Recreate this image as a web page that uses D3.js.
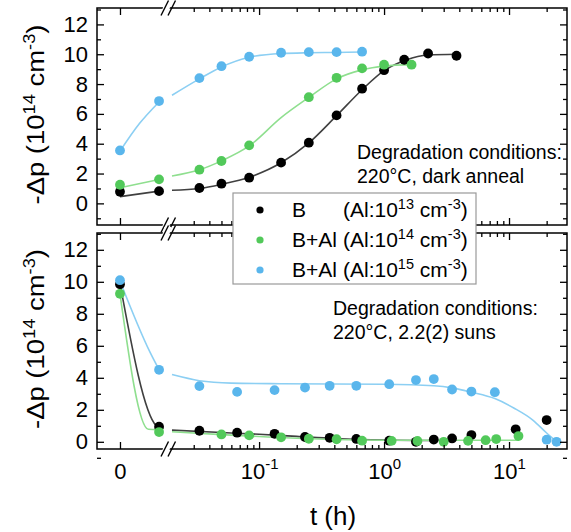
<!DOCTYPE html>
<html>
<head>
<meta charset="utf-8">
<script src="https://cdn.jsdelivr.net/npm/d3@7"></script>
<style>
body { margin: 0; background: #fff; }
text { font-family: "Liberation Sans", Arial, sans-serif; fill: #000; }
</style>
</head>
<body>
<div id="chart"></div>
<script>
var T1 = 1 / 60; // first point after t = 0, drawn on the linear piece

// dark anneal (top panel), measured points
var topBlackT = [0, T1, 0.0333, 0.05, 0.0833, 0.15, 0.25, 0.417, 0.667, 1, 1.45, 2.25, 3.8];
var topBlackV = [0.78, 0.82, 1.03, 1.32, 1.72, 2.73, 4.07, 5.9, 7.69, 8.93, 9.63, 10.05, 9.9];
var topGreenT = [0, T1, 0.0333, 0.05, 0.0833, 0.25, 0.417, 0.667, 1, 1.66];
var topGreenV = [1.25, 1.61, 2.26, 2.84, 3.89, 7.12, 8.42, 9.05, 9.3, 9.3];
var topBlueT = [0, T1, 0.0333, 0.05, 0.0833, 0.15, 0.25, 0.417, 0.667];
var topBlueV = [3.55, 6.86, 8.4, 9.2, 9.83, 10.1, 10.14, 10.14, 10.17];

// dark anneal fit lines (left piece A, right piece B)
var fitTopBlackAT = [0, T1];
var fitTopBlackAV = [0.45, 0.82];
var fitTopBlackBT = [0.0201, 0.0333, 0.05, 0.0833, 0.15, 0.25, 0.417, 0.667, 1, 1.5, 2.25, 3.8];
var fitTopBlackBV = [0.88, 1.0, 1.28, 1.75, 2.72, 4.05, 5.88, 7.62, 8.9, 9.62, 9.95, 10.0];
var fitTopGreenAT = [0, T1];
var fitTopGreenAV = [1.05, 1.6];
var fitTopGreenBT = [0.0201, 0.0333, 0.05, 0.0833, 0.15, 0.25, 0.417, 0.667, 1, 1.66];
var fitTopGreenBV = [1.83, 2.25, 2.85, 3.85, 5.75, 7.1, 8.35, 8.95, 9.2, 9.3];
var fitTopBlueAT = [0, 0.0083, T1];
var fitTopBlueAV = [3.5, 5.35, 6.8];
var fitTopBlueBT = [0.0201, 0.0333, 0.05, 0.0833, 0.15, 0.25, 0.417, 0.667];
var fitTopBlueBV = [7.25, 8.35, 9.15, 9.8, 10.05, 10.1, 10.12, 10.15];

// 2.2 suns (bottom panel), measured points
var botBlackT = [0, T1, 0.0333, 0.0667, 0.133, 0.233, 0.367, 0.6, 1.1, 1.8, 2.5, 3.5, 5, 11.3, 20];
var botBlackV = [9.85, 0.94, 0.69, 0.57, 0.5, 0.3, 0.25, 0.18, 0.07, 0.0, 0.14, 0.21, 0.42, 0.78, 1.36];
var botGreenT = [0, T1, 0.05, 0.0833, 0.15, 0.25, 0.417, 0.667, 1.15, 1.85, 3, 4.7, 6.5, 7.9, 11.9];
var botGreenV = [9.25, 0.61, 0.46, 0.4, 0.28, 0.19, 0.16, 0.07, 0.06, 0.05, 0.0, 0.06, 0.1, 0.17, 0.36];
var botBlueT = [0, T1, 0.0333, 0.0667, 0.133, 0.233, 0.367, 0.6, 1.1, 1.8, 2.5, 3.5, 5, 7.7, 20, 24];
var botBlueV = [10.1, 4.5, 3.48, 3.12, 3.23, 3.39, 3.5, 3.5, 3.6, 3.86, 3.92, 3.27, 3.14, 3.1, 0.13, 0.0];

// 2.2 suns fit lines
var fitBotBlackAT = [0, 0.0155, T1];
var fitBotBlackAV = [9.9, 1.0, 0.88];
var fitBotBlackBT = [0.0201, 0.05, 0.1, 0.2, 0.4, 1, 2.5];
var fitBotBlackBV = [0.73, 0.58, 0.47, 0.34, 0.21, 0.11, 0.08];
var fitBotGreenAT = [0, 0.0121, T1];
var fitBotGreenAV = [9.25, 0.78, 0.75];
var fitBotGreenBT = [0.0201, 0.05, 0.1, 0.2, 0.4, 1, 3, 11.9];
var fitBotGreenBV = [0.63, 0.45, 0.33, 0.22, 0.14, 0.1, 0.1, 0.1];
var fitBotBlueAT = [0, 0.0128, T1];
var fitBotBlueAV = [10.05, 5.6, 4.5];
var fitBotBlueBT = [0.0201, 0.0333, 0.06, 0.15, 1, 2.5, 3.5, 5, 7.7, 11, 15.5, 20, 24.2];
var fitBotBlueBV = [4.2, 3.82, 3.67, 3.63, 3.6, 3.5, 3.37, 3.1, 2.7, 2.1, 1.36, 0.55, 0.0];

var yMajor = [0, 2, 4, 6, 8, 10, 12];
var xMajorLog = [0.1, 1, 10];
var xMinorLog = [0.03, 0.04, 0.05, 0.06, 0.07, 0.08, 0.09, 0.2, 0.3, 0.4, 0.5, 0.6, 0.7, 0.8, 0.9,
                 2, 3, 4, 5, 6, 7, 8, 9, 20];
var legendNames = ["B", "B+Al", "B+Al"];
var legendExp = ["13", "14", "15"];

var dotColor = { black: "#000000", green: "#52c95a", blue: "#5ab6ec" };
var lineColor = { black: "#404040", green: "#8fdf8f", blue: "#8ccff3" };

var W = 571, H = 532;
var left = 97, right = 567;
var topBox = { y0: 8, y1: 225 };
var botBox = { y0: 233, y1: 449 };

var svg = d3.select("#chart").append("svg")
    .attr("width", W)
    .attr("height", H);

// broken x axis: a linear piece holding t = 0, then a log piece
var xLin = d3.scaleLinear().domain([-0.0098, 0.0192]).range([left, 165]);
var xLog = d3.scaleLog().domain([0.0201, 29.1]).range([172, right]);
function xPos(t) { return t < 0.0195 ? xLin(t) : xLog(t); }

var yTop = d3.scaleLinear().domain([-1.45, 13.1]).range([topBox.y1, topBox.y0]);
var yBot = d3.scaleLinear().domain([-0.45, 13.05]).range([botBox.y1, botBox.y0]);

function pairs(ts, vs) {
    return ts.map(function (t, i) { return { t: t, v: vs[i] }; });
}

function supLabel(sel, base, exp, size) {
    sel.text(null);
    sel.append("tspan").text(base);
    sel.append("tspan").attr("dy", -size * 0.42).style("font-size", (size * 0.68) + "px").text(exp);
}

function drawPanel(box, y, series, showXLabels) {
    var g = svg.append("g");

    // fit lines
    var line = d3.line()
        .x(function (d) { return xPos(d.t); })
        .y(function (d) { return y(d.v); })
        .curve(d3.curveMonotoneX);
    series.forEach(function (s) {
        [s.fitA, s.fitB].forEach(function (f) {
            g.append("path")
                .attr("d", line(f))
                .attr("fill", "none")
                .attr("stroke", lineColor[s.color])
                .attr("stroke-width", 1.6);
        });
    });

    // points
    series.forEach(function (s) {
        g.selectAll(null)
            .data(s.pts)
            .enter().append("circle")
            .attr("cx", function (d) { return xPos(d.t); })
            .attr("cy", function (d) { return y(d.v); })
            .attr("r", 4.9)
            .attr("fill", dotColor[s.color]);
    });

    // frame
    g.append("rect")
        .attr("x", left).attr("y", box.y0)
        .attr("width", right - left).attr("height", box.y1 - box.y0)
        .attr("fill", "none").attr("stroke", "#000").attr("stroke-width", 1.5);

    // y axes, ticks pointing inward
    var yMinor = d3.range(-1, 14, 2);
    var yl = g.append("g").attr("transform", "translate(" + left + ",0)")
        .call(d3.axisLeft(y).tickValues(yMajor).tickSizeInner(-7).tickSizeOuter(0).tickPadding(9));
    yl.selectAll("text").style("font-size", "22px");
    g.append("g").attr("transform", "translate(" + left + ",0)")
        .call(d3.axisLeft(y).tickValues(yMinor).tickSizeInner(-4).tickSizeOuter(0).tickFormat(""));
    g.append("g").attr("transform", "translate(" + right + ",0)")
        .call(d3.axisRight(y).tickValues(yMajor).tickSizeInner(-7).tickSizeOuter(0).tickFormat(""));
    g.append("g").attr("transform", "translate(" + right + ",0)")
        .call(d3.axisRight(y).tickValues(yMinor).tickSizeInner(-4).tickSizeOuter(0).tickFormat(""));

    // x axes on top and bottom edges
    [[box.y0, d3.axisTop], [box.y1, d3.axisBottom]].forEach(function (e, k) {
        var at = "translate(0," + e[0] + ")";
        var lab = showXLabels && k === 1;
        var a0 = g.append("g").attr("transform", at)
            .call(e[1](xLin).tickValues([0]).tickSizeInner(-7).tickSizeOuter(0).tickPadding(14)
                .tickFormat(lab ? d3.format("d") : ""));
        var a1 = g.append("g").attr("transform", at)
            .call(e[1](xLog).tickValues(xMajorLog).tickSizeInner(-7).tickSizeOuter(0).tickPadding(14)
                .tickFormat(lab ? function (d) { return d; } : ""));
        g.append("g").attr("transform", at)
            .call(e[1](xLog).tickValues(xMinorLog).tickSizeInner(-4).tickSizeOuter(0).tickFormat(""));
        if (lab) {
            a0.selectAll("text").style("font-size", "22px");
            a1.selectAll("text").style("font-size", "22px").each(function (d) {
                supLabel(d3.select(this), "10", String(Math.round(Math.log10(d))), 22);
            });
        }
    });
    g.selectAll(".domain").remove();
    g.selectAll(".tick line").attr("stroke-width", 1.3);

    // axis break marks
    [box.y0, box.y1].forEach(function (yy) {
        g.append("polygon")
            .attr("points", [[161, yy + 6], [164.5, yy - 6], [171.5, yy - 6], [168, yy + 6]].join(" "))
            .attr("fill", "#fff");
        [161, 168].forEach(function (x0) {
            g.append("line")
                .attr("x1", x0).attr("y1", yy + 7.5)
                .attr("x2", x0 + 7.5).attr("y2", yy - 7.5)
                .attr("stroke", "#000").attr("stroke-width", 1.4);
        });
    });

    // y title, stretched along its length like the original
    var cy = (box.y0 + box.y1) / 2 - 2;
    var yt = g.append("text")
        .attr("text-anchor", "middle")
        .style("font-size", "24px");
    yt.append("tspan").text("-\u0394p (10");
    yt.append("tspan").attr("dy", -9).style("font-size", "16px").text("14");
    yt.append("tspan").attr("dy", 9).text(" cm");
    yt.append("tspan").attr("dy", -9).style("font-size", "16px").text("-3");
    yt.append("tspan").attr("dy", 9).text(")");
    var len = yt.node().getComputedTextLength();
    yt.attr("transform", "translate(44," + cy + ") rotate(-90) scale(" + (180 / len) + ",1)");
}

drawPanel(topBox, yTop, [
    { color: "black", pts: pairs(topBlackT, topBlackV), fitA: pairs(fitTopBlackAT, fitTopBlackAV), fitB: pairs(fitTopBlackBT, fitTopBlackBV) },
    { color: "green", pts: pairs(topGreenT, topGreenV), fitA: pairs(fitTopGreenAT, fitTopGreenAV), fitB: pairs(fitTopGreenBT, fitTopGreenBV) },
    { color: "blue", pts: pairs(topBlueT, topBlueV), fitA: pairs(fitTopBlueAT, fitTopBlueAV), fitB: pairs(fitTopBlueBT, fitTopBlueBV) }
], false);

drawPanel(botBox, yBot, [
    { color: "black", pts: pairs(botBlackT, botBlackV), fitA: pairs(fitBotBlackAT, fitBotBlackAV), fitB: pairs(fitBotBlackBT, fitBotBlackBV) },
    { color: "green", pts: pairs(botGreenT, botGreenV), fitA: pairs(fitBotGreenAT, fitBotGreenAV), fitB: pairs(fitBotGreenBT, fitBotGreenBV) },
    { color: "blue", pts: pairs(botBlueT, botBlueV), fitA: pairs(fitBotBlueAT, fitBotBlueAV), fitB: pairs(fitBotBlueBT, fitBotBlueBV) }
], true);

// annotations
function note(x, y0, lines) {
    lines.forEach(function (s, i) {
        svg.append("text")
            .attr("x", x).attr("y", y0 + i * 24)
            .style("font-size", "19.5px")
            .text(s);
    });
}
note(357, 159, ["Degradation conditions:", "220\u00b0C, dark anneal"]);
note(333, 315, ["Degradation conditions:", "220\u00b0C, 2.2(2) suns"]);

// x title
svg.append("text")
    .attr("x", 333).attr("y", 525)
    .attr("text-anchor", "middle")
    .style("font-size", "26px")
    .text("t (h)");

// legend
var lg = svg.append("g");
lg.append("rect")
    .attr("x", 233).attr("y", 193)
    .attr("width", 243).attr("height", 91)
    .attr("fill", "#fff").attr("stroke", "#999").attr("stroke-width", 1.2);
["black", "green", "blue"].forEach(function (c, i) {
    var cy = 210 + i * 30;
    lg.append("circle").attr("cx", 260).attr("cy", cy).attr("r", 3.6).attr("fill", dotColor[c]);
    lg.append("text").attr("x", 292).attr("y", cy + 7).style("font-size", "21px").text(legendNames[i]);
    var t = lg.append("text").attr("x", 343).attr("y", cy + 7).style("font-size", "21px");
    t.append("tspan").text("(Al:10");
    t.append("tspan").attr("dy", -8).style("font-size", "14.5px").text(legendExp[i]);
    t.append("tspan").attr("dy", 8).text(" cm");
    t.append("tspan").attr("dy", -8).style("font-size", "14.5px").text("-3");
    t.append("tspan").attr("dy", 8).text(")");
});
</script>
</body>
</html>
